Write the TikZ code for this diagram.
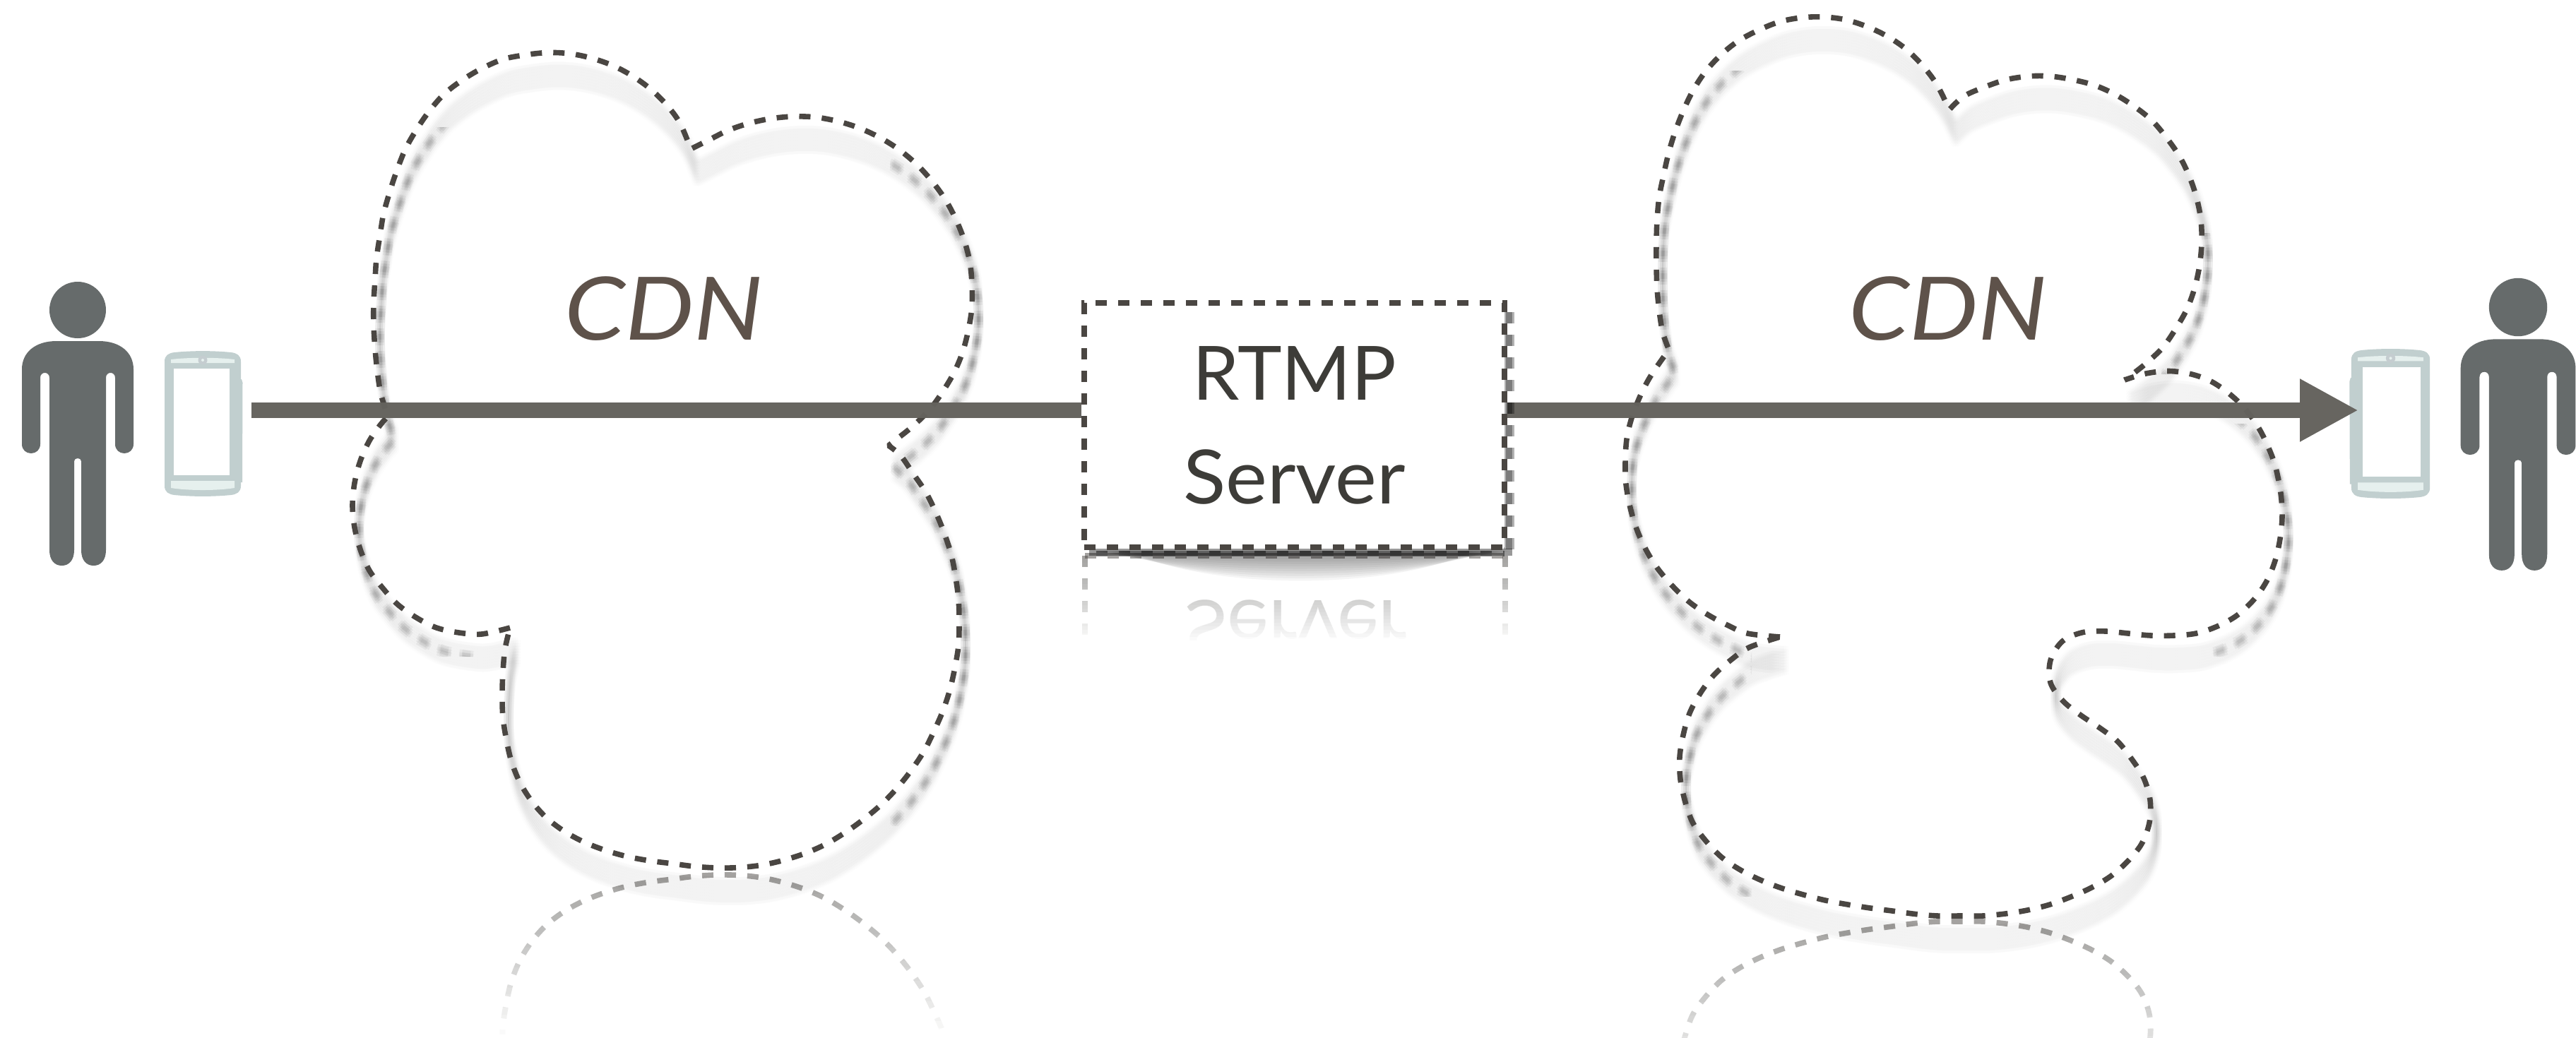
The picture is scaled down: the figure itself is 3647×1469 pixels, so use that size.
\documentclass[tikz,border=0pt]{standalone}
\usepackage{fontspec}
\setmainfont{Lato}
\newfontfamily\cdnfont[FakeStretch=1.11]{Lato}
\newfontfamily\srvfont[FakeStretch=1.05]{Lato}
\usetikzlibrary{arrows.meta}
\definecolor{dashc}{HTML}{4A4642}
\definecolor{linec}{HTML}{676560}
\definecolor{personc}{HTML}{666B6B}
\definecolor{phonec}{HTML}{C1CFCF}
\definecolor{stripc}{HTML}{E6F0EE}
\definecolor{camc}{HTML}{C5CDD0}
\definecolor{cdnc}{HTML}{5E524A}
\definecolor{rtmpc}{HTML}{3D3C38}
\pgfdeclarelayer{bg}
\pgfsetlayers{bg,main}
\tikzset{
  cloudline/.style={draw=dashc,line width=1.9pt,dash pattern=on 4pt off 4pt,line cap=butt,line join=bevel},
  cloudband/.style={draw=black,line width=2pt,opacity=0.007,line join=round},
  cloudspot/.style={draw=black,line width=2.2pt,dash pattern=on 4pt off 4pt,opacity=0.045,line join=round},
  cloudmirror/.style={draw=dashc,line width=1.9pt,dash pattern=on 4pt off 4pt,opacity=0.5,line join=bevel},
  cdnlabel/.style={text=cdnc,font=\fontsize{31}{31}\cdnfont\itshape,anchor=base,inner sep=0pt},
  serverbox/.style={draw=dashc,fill=white,line width=1.9pt,dash pattern=on 4pt off 4pt,
    minimum width=148.75pt,minimum height=86.5pt,inner sep=0pt,align=center,text=rtmpc,
    font=\fontsize{26.5}{36.75}\selectfont},
  boxdash/.style={draw=dashc,line width=1.9pt,dash pattern=on 4pt off 4pt},
  conn/.style={draw=linec,line width=5.5pt},
  personbody/.style={fill=personc,draw=none},
  phoneframe/.style={fill=phonec,draw=none},
  phonestrip/.style={fill=stripc,draw=none},
}
\newcommand\cloudLeft{
 plot[smooth,tension=.55] coordinates{(722,889)(682,898)(650,896)(618,889)(590,875)(563,856)(542,833)(523,808)(510,778)(502,747)(499,716)(502,684)(510,653)(523,624)(539,601)(549,590)}
 -- plot[smooth,tension=.55] coordinates{(549,590)(539,557)(534,524)(531,494)(529,461)(529,429)(531,396)(533,366)(538,333)(543,303)(552,271)(562,241)(574,211)(590,183)(608,157)(629,133)(655,113)(682,97)(712,84)(742,78)(775,74.5)(807,76)(838,82.5)(868,93)(896,108)(922,127)(945,150)(963,175)(978,211)}
 -- plot[smooth,tension=.55] coordinates{(978,211)(1002,199)(1030,185)(1059,175)(1091,168)(1123,165)(1155,166)(1187,172)(1217,181.5)(1246,195)(1273,212)(1298,233)(1319,256)(1338,282)(1353,310)(1365,340)(1373,371)(1376,402)(1376,435)(1371,467)(1363,498)(1351,527)(1335,554)(1317,579)(1293,603)(1268,623)(1258,631)}
 -- plot[smooth,tension=.55] coordinates{(1258,631)(1275,645)(1293,671)(1311,697.5)(1325,726)(1337,755.5)(1347,786.5)(1353,818)(1357,849)(1358,881)(1357,914)(1352,945)(1345,976)(1335,1006.5)(1322,1036)(1308,1064)(1290,1091)(1270,1116)(1248,1139)(1223,1160)(1198,1178)(1170,1195)(1141,1208)(1110,1218)(1079,1225)(1047,1228.5)(1015,1229)(983,1227)(952,1223)(920,1219)(888,1213)(858,1204.5)(828,1193)(800,1178)(774,1158.5)(753,1135)(736,1108)(724,1078)(717,1048)(712,1016)(711,984)(712,952)(715,919)(722,889)}
}
\newcommand\cloudRight{
 plot[smooth,tension=.55] coordinates{(2520,902)(2474,897)(2445,885)(2417,870)(2391,852)(2367,829)(2346,804)(2330,778)(2317,749)(2308,719)(2302,686)(2301,655)(2303,622)(2310,592)(2322,561)(2336,534)(2355,506)(2363,496)}
 -- plot[smooth,tension=.55] coordinates{(2363,496)(2354,471)(2349,440)(2346,408)(2345,376)(2345,344)(2346,312)(2349,279)(2355,249)(2362,218)(2371,188)(2383,157)(2397,128)(2414,102)(2436,78)(2461,58)(2489,43)(2519,31)(2550,25)(2582,24)(2613,28)(2644,38)(2673,52)(2699,70)(2722,93)(2741,118)(2756,147)(2760,155)}
 -- plot[smooth,tension=.55] coordinates{(2760,155)(2780,136.5)(2809,123.5)(2840,113)(2872,108)(2903,108)(2935,113)(2966,121)(2995,134)(3022,151)(3047,171)(3068,196)(3086,222)(3100,251)(3110,281)(3116,312)(3117,344)(3114,376)(3107,408)(3096,438)(3080,466)(3062,492)(3039,514)(3015,533)(3008,538)}
 -- plot[smooth,tension=.55] coordinates{(3008,538)(3038,529)(3071,525.5)(3103,530)(3132,541)(3159,560)(3181,582)(3200,610)(3215,642)(3223,667)(3229,699)(3231,730.5)(3228,763)(3221,794)(3209,823)(3191,849)(3167,871.5)(3139,887)(3109,897)(3077,900)(3045,900)(3013,897)(2982,894)(2949,895.5)(2920,908)(2903,935)(2903,967)(2921,993)(2946,1013)(2973,1031)(2998,1050)(3018,1075)(3035,1102)(3044,1133)(3043,1165)(3032,1195)(3012,1220)(2988,1241)(2961,1257)(2932,1270)(2902,1281)(2870,1289)(2839,1294)(2807,1297)(2775,1297)(2743,1297)(2712,1294.5)(2679,1290)(2648,1286)(2616,1281)(2584,1275)(2553,1267)(2523,1258)(2493,1246.5)(2464,1232)(2438,1214.5)(2416,1192)(2397,1166)(2386,1136)(2379,1104)(2378,1072)(2383,1041)(2392,1010)(2407,982)(2426,956.5)(2450,935)(2476,917)(2520,902)}
}
\newcommand\personShape{
  \fill[personbody] (0,0) circle[radius=40];
  \fill[personbody] (-30,44) -- (30,44) .. controls (60,44) and (79,60) .. (79,84) -- (79,190)
   .. controls (79,198) and (73,203) .. (66,203) .. controls (59,203) and (53,198) .. (53,190) -- (53,96)
   .. controls (53,91.5) and (50,89) .. (46.5,89) .. controls (43,89) and (40,91.5) .. (40,96) -- (40,340)
   .. controls (40,354) and (33,362) .. (22.5,362) .. controls (12,362) and (5,354) .. (5,340) -- (5,214)
   .. controls (5,211.5) and (2.5,210) .. (0,210) .. controls (-2.5,210) and (-5,211.5) .. (-5,214) -- (-5,340)
   .. controls (-5,354) and (-12,362) .. (-22.5,362) .. controls (-33,362) and (-40,354) .. (-40,340) -- (-40,96)
   .. controls (-40,91.5) and (-43,89) .. (-46.5,89) .. controls (-50,89) and (-53,91.5) .. (-53,96) -- (-53,190)
   .. controls (-53,198) and (-59,203) .. (-66,203) .. controls (-73,203) and (-79,198) .. (-79,190) -- (-79,84)
   .. controls (-79,60) and (-60,44) .. (-30,44) -- cycle;
}
\newcommand\phoneShape{
  \fill[phoneframe] (-54,-88) .. controls (-54,-97) and (-48,-100) .. (-40,-101) .. controls (-15,-103.5) and (15,-103.5) .. (40,-101)
    .. controls (48,-100) and (54,-97) .. (54,-88) -- (54,88) .. controls (54,97) and (48,100) .. (40,101)
    .. controls (15,103.5) and (-15,103.5) .. (-40,101) .. controls (-48,100) and (-54,97) .. (-54,88) -- cycle;
  \fill[phoneframe] (52,-63) -- (55,-63) -- (56.5,-58) -- (56,83) -- (52,83) -- cycle;
  \fill[white] (-41,-78) rectangle (38,73);
  \fill[phonestrip] (-45,-86) -- (-45,-91) .. controls (-20,-94) and (20,-94) .. (45,-91) -- (45,-86) -- cycle;
  \fill[phonestrip] (-45,81) -- (45,81) -- (45,91) .. controls (20,95) and (-20,95) .. (-45,91) -- cycle;
  \fill[camc] (0,-90) circle[radius=6.5];
  \fill[stripc] (0,-90) circle[radius=2];
}
\begin{document}
\begin{tikzpicture}[x=0.25pt,y=-0.25pt]
\useasboundingbox (0,0) rectangle (3647,1469);
% server box and labels on the main layer
\node[serverbox] (box) at (1832.5,602) {RTMP\\{\srvfont Server}};
\node[cdnlabel] (cdnL) at (940,481) {CDN};
\node[cdnlabel] (cdnR) at (2758,481) {CDN};
\coordinate (lineStart) at (356,581);
\coordinate (lineEnd) at (3339,581);
\begin{pgfonlayer}{bg}
\fill[white] (0,0) rectangle (3647,1469);
% reflections, faded by white overlays
\begin{scope}[shift={(0,2468)},yscale=-1]
  \draw[cloudmirror] \cloudLeft;
\end{scope}
\foreach \k in {1,...,24}{
  \pgfmathsetmacro\al{1/(25-\k)}
  \fill[white,opacity=\al] (600,{1237+9.5*\k}) rectangle (1420,1480);
}
\begin{scope}[shift={(0,2602)},yscale=-1]
  \draw[cloudmirror] \cloudRight;
\end{scope}
\foreach \k in {1,...,24}{
  \pgfmathsetmacro\al{1/(25-\k)}
  \fill[white,opacity=\al] (2300,{1305+9.5*\k}) rectangle (3100,1540);
}
\begin{scope}[shift={(0,1562)},yscale=-1]
  \draw[boxdash,opacity=.5] (1536,775) -- (1536,600);
  \draw[boxdash,opacity=.5] (2131,775) -- (2131,600);
  \draw[boxdash,opacity=.5] (1536,775) -- (2131,775);
  \node[transform shape,anchor=base,inner sep=0pt,text=rtmpc,opacity=.42,font=\fontsize{26.5}{36.75}\srvfont] (serverMirror) at (1835,712) {Server};
\end{scope}
\foreach \k in {1,...,24}{
  \pgfmathsetmacro\al{1/(25-\k)}
  \fill[white,opacity=\al] (1515,{787+5*\k}) rectangle (2150,975);
}
% soft cloud shadows: smooth band
\foreach \sx in {-3,0,3}{\foreach \sy in {-16,-12,...,16}{
  \begin{scope}[shift={({9+\sx},{33+\sy})}]
    \draw[cloudband] \cloudLeft;
    \draw[cloudband] \cloudRight;
  \end{scope}
}}
% blurred dash spots where the outline runs steeply
\begin{scope}
  \clip (480,180) rectangle (680,930)
        (1260,210) rectangle (1420,1170)
        (2290,100) rectangle (2480,1270)
        (3060,330) rectangle (3160,530)
        (3130,600) rectangle (3260,930);
  \foreach \sx in {-2,2}{\foreach \sy in {-4,0,4}{
    \begin{scope}[shift={({9+\sx},{33+\sy})}]
      \draw[cloudspot] \cloudLeft;
      \draw[cloudspot] \cloudRight;
    \end{scope}
  }}
\end{scope}
% clouds
\draw[cloudline] \cloudLeft;
\draw[cloudline] \cloudRight;
% people and phones
\begin{scope}[shift={(110,439)}]\personShape\end{scope}
\begin{scope}[shift={(3565,435)},scale=1.03]\personShape\end{scope}
\begin{scope}[shift={(287,600)}]\phoneShape\end{scope}
\begin{scope}[shift={(3384.5,600)},xscale=-1.03,yscale=1.03]\phoneShape\end{scope}
% connectors
\draw[conn] (lineStart) -- (lineStart -| box.west);
\draw[conn,-{Triangle[length=20.75pt,width=20.75pt]}] (lineStart -| box.east) -- (lineEnd);
% outline faintly showing through the connector
\begin{scope}
  \clip (356,570) rectangle (3250,592);
  \draw[cloudline,opacity=.12] \cloudLeft;
  \draw[cloudline,opacity=.12] \cloudRight;
\end{scope}
% box shadow
\foreach \sx in {2,5,8,11}{
  \draw[draw=black,line width=1.6pt,dash pattern=on 4pt off 4pt,opacity=.3] ({2130+\sx},442) -- ({2130+\sx},790);
}
\fill[black,opacity=.4] (1542,777) rectangle (2141,787);
\foreach \k in {0,...,9}{
  \fill[black,opacity=.04] ({1545+\k*6},780) .. controls ({1620+\k*10},{796+\k*4.5}) and ({2060-\k*10},{796+\k*4.5}) .. ({2140-\k*6},780) -- cycle;
}
\draw[draw=black,line width=1.9pt,dash pattern=on 4pt off 4pt,opacity=.45] (1552,784) -- (2130,784);
\end{pgfonlayer}
\end{tikzpicture}
\end{document}
